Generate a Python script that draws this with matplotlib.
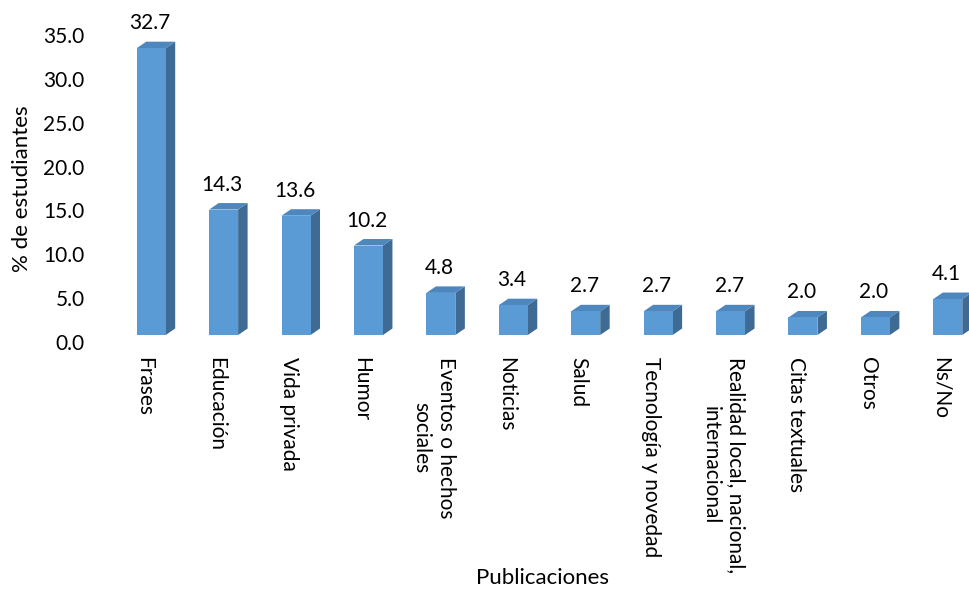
import numpy as np
import matplotlib.pyplot as plt
import matplotlib.transforms as mtransforms
from matplotlib.patches import Polygon

plt.rcParams['font.family'] = ['Lato', 'DejaVu Sans']

# data
categorias = ['Frases', 'Educación', 'Vida privada', 'Humor',
              'Eventos o hechos\nsociales', 'Noticias', 'Salud',
              'Tecnología y novedad', 'Realidad local, nacional,\ninternacional',
              'Citas textuales', 'Otros', 'Ns/No']
porcentajes = [32.7, 14.3, 13.6, 10.2, 4.8, 3.4, 2.7, 2.7, 2.7, 2.0, 2.0, 4.1]
yticks = [0, 5, 10, 15, 20, 25, 30, 35]

col_front = '#5B9BD5'
col_side = '#3E6A94'
col_top = '#4D87BD'
fs = 15

W, H = 969, 592
fig = plt.figure(figsize=(W / 100, H / 100), dpi=100)
ax = fig.add_axes([115 / W, 257 / H, 869 / W, 307 / H])
ax.set_xlim(-0.5, 11.5)
ax.set_ylim(0, 35)

x = np.arange(len(categorias))
bw = 0.40
# depth of the fake 3d box, in pixels -> data units
px_x = 869 / 12.0
px_y = 307 / 35.0
dx = 9.5 / px_x
dy = 6.5 / px_y

ax.bar(x, porcentajes, width=bw, color=col_front, zorder=3, clip_on=False)
for xi, v in zip(x, porcentajes):
    x0, x1 = xi - bw / 2, xi + bw / 2
    side = Polygon([(x1, 0), (x1, v), (x1 + dx, v + dy), (x1 + dx, dy)],
                   closed=True, facecolor=col_side, edgecolor='none', zorder=2, clip_on=False)
    top = Polygon([(x0, v), (x1, v), (x1 + dx, v + dy), (x0 + dx, v + dy)],
                  closed=True, facecolor=col_top, edgecolor='none', zorder=2, clip_on=False)
    ax.add_patch(side)
    ax.add_patch(top)
    ax.annotate(f'{v:.1f}', (xi, v), xytext=(-1, 18), textcoords='offset points',
                ha='center', va='center', fontsize=fs, clip_on=False)

ax.set_yticks(yticks)
ax.set_yticklabels([f'{t:.1f}' for t in yticks], fontsize=fs)
ax.set_xticks(x)
ax.set_xticklabels(categorias, rotation=-90, fontsize=fs, ha='center', va='top',
                   multialignment='center', linespacing=1.3)
ax.tick_params(axis='y', length=0, pad=22)
ax.tick_params(axis='x', length=0, pad=16)

shift_y = mtransforms.ScaledTranslation(0, -7 / 100, fig.dpi_scale_trans)
for lab in ax.get_yticklabels():
    lab.set_transform(lab.get_transform() + shift_y)
shift_x = mtransforms.ScaledTranslation(-7 / 100, 0, fig.dpi_scale_trans)
for lab in ax.get_xticklabels():
    lab.set_transform(lab.get_transform() + shift_x)

for s in ax.spines.values():
    s.set_visible(False)

fig.text(22 / W, 1 - 189 / H, '% de estudiantes', rotation=90, ha='center', va='center',
         fontsize=16)
fig.text(543 / W, 1 - 578 / H, 'Publicaciones', ha='center', va='center', fontsize=16)

fig.savefig('out.png', dpi=100)
